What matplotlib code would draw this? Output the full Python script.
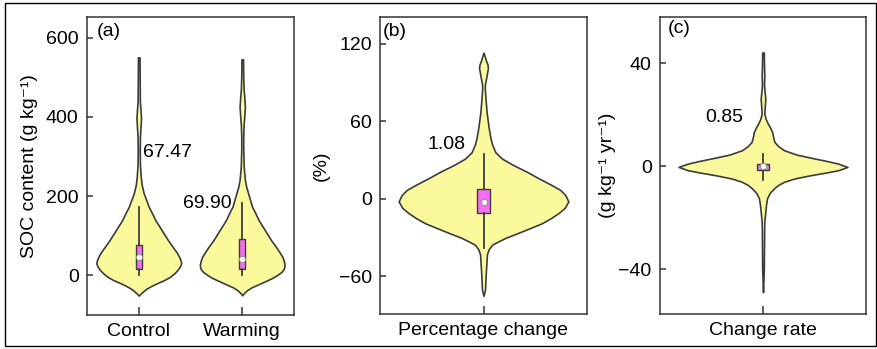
import matplotlib.pyplot as plt
from matplotlib.patches import Rectangle
import numpy as np

plt.rcParams['font.family'] = ['Liberation Sans', 'DejaVu Sans']
plt.rcParams['font.size'] = 14

# violin outlines: y value -> relative half width
control_y = [-52, -46, -40, -34, -27, -21, -12, -4, 5, 13, 22, 30, 38, 46, 58, 72, 88, 106,
             122, 139, 156, 173, 190, 207, 228, 249, 280, 316, 350, 375, 397, 418, 440, 480, 551]
control_w = [0, 2.3, 5, 8, 13, 18, 26, 31.7, 36, 39, 41.5, 42.7, 42, 40.7, 38, 34, 29.5, 25,
             21, 16.7, 13.5, 10, 7.5, 5, 3, 2, 1.2, 1, 1.2, 1.8, 2.3, 1.8, 1.1, 1, 0.8]
warming_y = [-51, -45, -38, -31, -25, -16, -8, 0, 8, 16, 25, 35, 46, 58, 72, 88, 106,
             122, 139, 156, 173, 190, 207, 224, 241, 274, 320, 350, 380, 405, 426, 447, 470, 500, 546]
warming_w = [0, 2, 5, 9.5, 15, 23, 30, 35.5, 40, 42.5, 43.3, 42.5, 41, 38, 34.3, 29.5, 25,
             21, 16.7, 13.5, 10, 8, 6, 4, 2.7, 1.5, 1, 1, 1.4, 2.2, 2.7, 2.2, 1.4, 1, 0.8]
pct_y = [-75, -70, -66, -61, -56, -50, -43, -39, -35.5, -33, -30, -26.5, -22.6, -19, -15, -11, -7,
         -2, 3, 7, 11, 16, 21, 26, 31, 36, 42, 48, 55, 61, 67, 74, 80, 85, 88, 91, 94,
         98, 101, 104, 107, 110, 113]
pct_w = [0, 1.5, 1.7, 2, 2.3, 2.8, 3.3, 5, 8.3, 14, 21.7, 33, 45, 56, 65, 72.5, 78.5,
         82, 79, 74, 65, 53, 41.7, 29, 18, 11.5, 8.3, 6.5, 5, 4, 3, 2.3, 1.7, 1.3, 1.3, 2,
         2.7, 3.6, 4.3, 3.8, 2.3, 1.2, 0]
rate_y = [-49, -40, -31, -26, -21.6, -17.7, -15, -12.5, -10.5, -8.7, -7.3, -6.1, -4.8, -3.5, -2.5,
          -1.6, -0.3, 1, 2, 3, 4.5, 6.2, 7.8, 9.4, 11.3, 13.3, 15, 16.6, 18.5, 20.5, 23.5, 26.3,
          29, 31.5, 35.3, 39, 44.2]
rate_w = [0, 0.8, 1, 1.1, 1.3, 2.3, 3, 4, 6.5, 10.7, 15, 20.7, 31, 47.3, 62,
          74, 83.3, 74, 63, 50.7, 33, 20.7, 15, 11.3, 10, 9, 7, 4.7, 2.5, 1.3, 1.8, 2.3,
          1.6, 1, 1.3, 1, 0.8]

# box statistics
control_box = dict(q1=15, med=45, q3=76, whislo=0, whishi=172)
warming_box = dict(q1=15, med=40, q3=91, whislo=0, whishi=182)
pct_box = dict(q1=-10.8, med=-2.3, q3=7.7, whislo=-38, whishi=34.7)
rate_box = dict(q1=-1.6, med=0, q3=1.0, whislo=-5.4, whishi=4.9)

# mean labels
control_mean = '67.47'
warming_mean = '69.90'
pct_mean = '1.08'
rate_mean = '0.85'

fill_col = '#FAFA9C'
box_col = '#F56FF5'
edge_col = '#3C3C3C'


def violin(ax, pos, ys, ws, box):
    ys = np.array(ys, float)
    ws = np.array(ws, float)
    hw = ws / ws.max() * 0.41
    ax.fill_betweenx(ys, pos - hw, pos + hw, facecolor=fill_col, edgecolor=edge_col, lw=1.2,
                     joinstyle='round', zorder=2)
    st = dict(box)
    st['fliers'] = []
    ax.bxp([st], positions=[pos], widths=0.06, patch_artist=True, showfliers=False,
           showcaps=False,
           boxprops=dict(facecolor=box_col, edgecolor=edge_col, lw=1.0),
           whiskerprops=dict(color=edge_col, lw=1.3),
           medianprops=dict(lw=0), zorder=3)
    ax.plot([pos], [box['med']], 'o', ms=4.5, mfc='white', mec='#888888', mew=0.6, zorder=5)


def style(ax):
    for s in ax.spines.values():
        s.set_linewidth(1.1)
        s.set_color('#333333')
    ax.tick_params(axis='y', direction='in', length=4, width=1.1, pad=6, color='#333333')
    ax.tick_params(axis='x', direction='in', length=5.5, width=1.1, pad=6, color='#333333')


fig = plt.figure(figsize=(8.77, 3.49), dpi=100)
W, H = 877, 349


def axes_px(left, top, right, bottom):
    return fig.add_axes([left / W, (H - bottom) / H, (right - left) / W, (bottom - top) / H])


# (a)
ax1 = axes_px(87, 17, 294, 315)
violin(ax1, 1, control_y, control_w, control_box)
violin(ax1, 2, warming_y, warming_w, warming_box)
ax1.set_xlim(0.5, 2.5)
ax1.set_ylim(-101, 653)
ax1.set_yticks([0, 200, 400, 600])
ax1.set_xticks([1, 2])
ax1.set_xticklabels(['Control', 'Warming'])
ax1.set_ylabel('SOC content (g kg\u207b\u00b9)', labelpad=6)
ax1.text(1.04, 309, control_mean, ha='left', va='center')
ax1.text(1.90, 182, warming_mean, ha='right', va='center')
ax1.text(0.045, 0.95, '(a)', transform=ax1.transAxes, ha='left', va='center')
style(ax1)

# (b)
ax2 = axes_px(380, 17, 587, 314)
violin(ax2, 1, pct_y, pct_w, pct_box)
ax2.set_xlim(0.5, 1.5)
ax2.set_ylim(-89, 140.5)
ax2.set_yticks([-60, 0, 60, 120])
ax2.set_xticks([1])
ax2.set_xticklabels(['Percentage change'])
ax2.set_ylabel('(%)', labelpad=6)
ax2.text(0.82, 41.7, pct_mean, ha='center', va='center')
ax2.text(0.012, 0.95, '(b)', transform=ax2.transAxes, ha='left', va='center')
style(ax2)

# (c)
ax3 = axes_px(660, 17, 866, 314)
violin(ax3, 1, rate_y, rate_w, rate_box)
ax3.set_xlim(0.5, 1.5)
ax3.set_ylim(-57.5, 58)
ax3.set_yticks([-40, 0, 40])
ax3.set_xticks([1])
ax3.set_xticklabels(['Change rate'])
ax3.set_ylabel('(g kg\u207b\u00b9 yr\u207b\u00b9)', labelpad=2)
ax3.text(0.81, 19, rate_mean, ha='center', va='center')
ax3.text(0.04, 0.962, '(c)', transform=ax3.transAxes, ha='left', va='center')
style(ax3)

# outer frame
fig.patches.append(Rectangle((5 / W, 1 - 346 / H), (876 - 5) / W, (346 - 3) / H,
                             transform=fig.transFigure, fill=False, lw=1.0, ec='black'))

fig.savefig('out.png', dpi=100)
